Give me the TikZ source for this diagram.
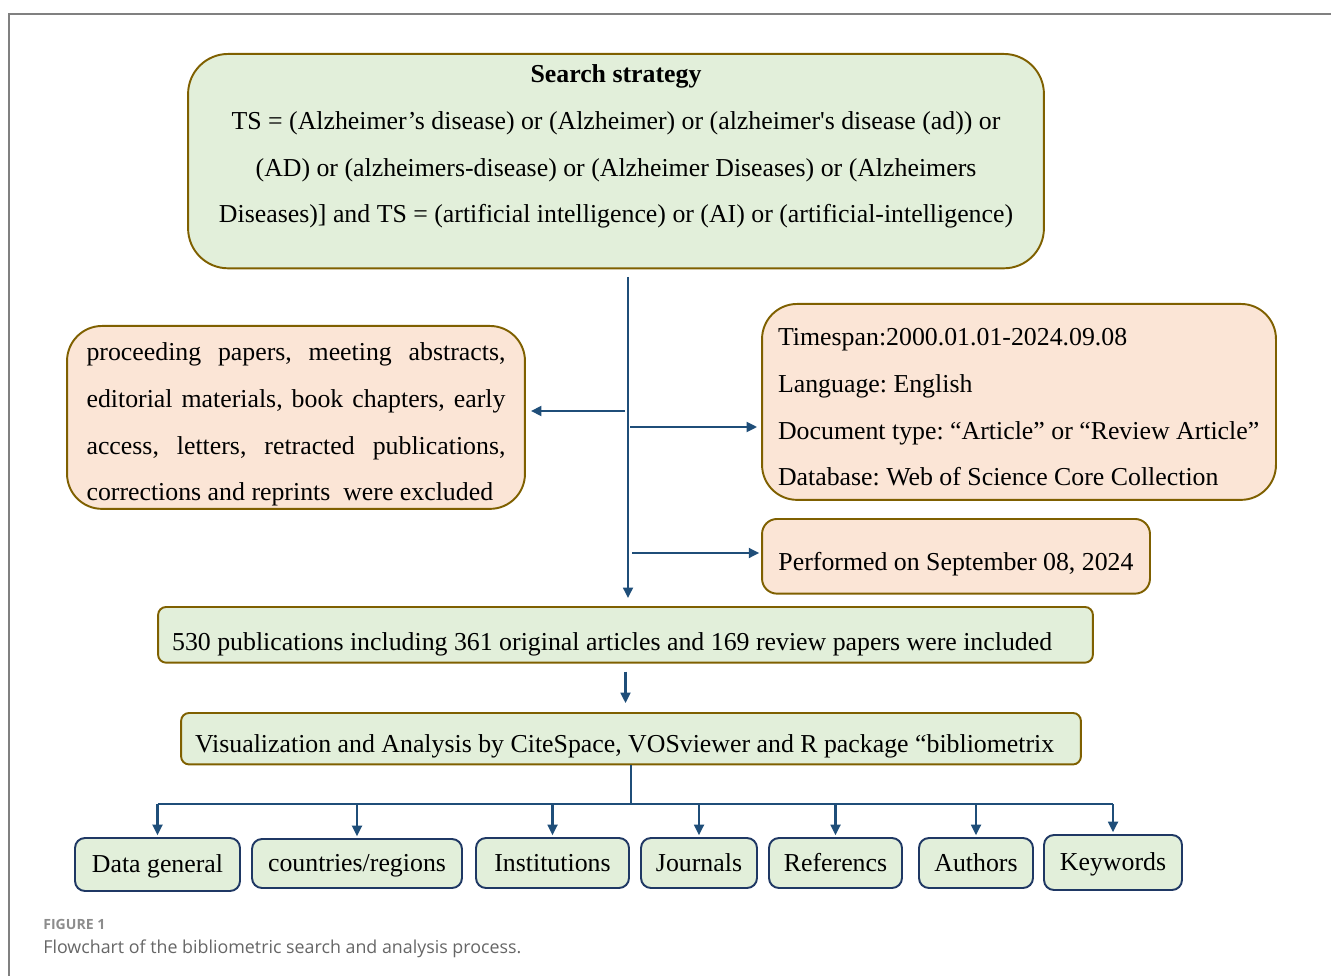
\documentclass[tikz,border=0pt]{standalone}
\usepackage{fontspec}
\setmainfont{Liberation Serif}
\newfontfamily\capfont{Open Sans}
\usetikzlibrary{positioning,arrows.meta}
\frenchspacing

\definecolor{boxedge}{RGB}{127,96,0}
\definecolor{greenfill}{RGB}{226,239,218}
\definecolor{peachfill}{RGB}{251,229,214}
\definecolor{navyedge}{RGB}{31,56,100}
\definecolor{flowblue}{RGB}{31,78,121}
\definecolor{framegray}{RGB}{128,128,128}

% invisible struts that fix the space above the first and below the last line
\newcommand{\topgap}[1]{\rule{0pt}{#1}}
\newcommand{\botgap}[1]{\rule[-#1]{0pt}{#1}}

\begin{document}
\begin{tikzpicture}[
    x=0.02cm, y=-0.02cm,
    basebox/.style={
        draw=boxedge,
        line width=1.1pt,
        font=\fontsize{14.7}{26.6}\selectfont
    },
    greenbox/.style={basebox, fill=greenfill},
    peachbox/.style={basebox, fill=peachfill},
    topicbox/.style={
        basebox,
        draw=navyedge,
        fill=greenfill,
        rounded corners=0.2cm,
        text height=1.15em,
        text depth=0.22em
    },
    line/.style={draw=flowblue, line width=1.6pt},
    arrow/.style={line, -{Triangle[length=6pt,width=5.5pt]}}
]
\useasboundingbox (0,0) rectangle (1331,976);

% frame of the figure
\draw[framegray, line width=0.8pt] (9,976) -- (9,14) -- (1331,14);

\node[greenbox, anchor=north, minimum width=17.12cm, inner ysep=0pt,
      rounded corners=0.8cm, align=center] (search) at (616,53)
    {\topgap{16.4pt}\textbf{Search strategy}\\
     TS = (Alzheimer’s disease) or (Alzheimer) or (alzheimer\textquotesingle s disease (ad)) or\\
     (AD) or (alzheimers-disease) or (Alzheimer Diseases) or (Alzheimers\\
     Diseases)] and TS = (artificial intelligence) or (AI) or (artificial-intelligence)\botgap{25.8pt}};

\node[peachbox, anchor=north, text width=8.38cm, inner xsep=0.39cm, inner ysep=0pt,
      rounded corners=0.7cm, align=justify] (excl) at (296,325)
    {\topgap{19.8pt}proceeding papers, meeting abstracts,\linebreak
     editorial materials, book chapters, early\linebreak
     access, letters, retracted publications,\linebreak
     corrections and reprints\ \ were excluded\botgap{4.5pt}};

\node[peachbox, anchor=north, text width=9.64cm, inner xsep=0.32cm, inner ysep=0pt,
      rounded corners=0.7cm, align=flush left] (crit) at (1019,303)
    {\topgap{23.8pt}Timespan:2000.01.01-2024.09.08\\
     Language: English\\
     Document type: “Article” or “Review Article”\\
     Database: Web of Science Core Collection\botgap{7.9pt}};

\node[peachbox, anchor=north, minimum width=7.76cm, inner ysep=0pt,
      rounded corners=0.3cm] (perf) at (956,518)
    {\topgap{29.5pt}Performed on September 08, 2024\botgap{13pt}};

\node[greenbox, anchor=north, text width=18.14cm, inner xsep=0.28cm, inner ysep=0pt,
      rounded corners=0.16cm, align=flush left] (pubs) at (625.5,606)
    {\topgap{24.9pt}530 publications including 361 original articles and 169 review papers were included\botgap{6.8pt}};

\node[greenbox, anchor=north, text width=17.44cm, inner xsep=0.28cm, inner ysep=0pt,
      rounded corners=0.16cm, align=flush left] (vis) at (631,712)
    {\topgap{22.7pt}Visualization and Analysis by CiteSpace, VOSviewer and R package “bibliometrix\botgap{6.6pt}};

% outputs of the analysis
\node[topicbox, minimum width=3.3cm, minimum height=1.06cm] (dgen) at (157.5,864.5) {Data general};
\node[topicbox, minimum width=4.2cm, minimum height=0.98cm] (ctry) at (357,863.5) {countries/regions};
\node[topicbox, minimum width=3.06cm, minimum height=1.0cm] (inst) at (552.5,863) {Institutions};
\node[topicbox, minimum width=2.32cm, minimum height=1.0cm] (jour) at (699,863) {Journals};
\node[topicbox, minimum width=2.66cm, minimum height=1.0cm] (refs) at (835.5,863) {Referencs};
\node[topicbox, minimum width=2.28cm, minimum height=1.0cm] (auth) at (976,863) {Authors};
\node[topicbox, minimum width=2.76cm, minimum height=1.1cm] (kwd) at (1113,862.5) {Keywords};

% connectors
\coordinate (trunk) at (628,277);
\coordinate (lx) at (625,411);
\coordinate (rx) at (630,427);
\coordinate (pfx) at (632,553);
\coordinate (bus) at (631,804);

\draw[arrow, shorten >=4.5pt] (trunk) -- (trunk |- pubs.north);
\draw[arrow, shorten >=2.8pt] (lx) -- (lx -| excl.east);
\draw[arrow, shorten >=2.2pt] (rx) -- (rx -| crit.west);
\draw[arrow, shorten >=1pt] (pfx) -- (pfx -| perf.west);
\draw[arrow, shorten <=4.5pt, shorten >=5pt] (pubs.south) -- (pubs.south |- vis.north);

\draw[line] (vis.south) -- (bus);
\draw[line] (dgen.north |- bus) -- (kwd.north |- bus);
\foreach \b in {dgen,ctry,inst,jour,refs,auth,kwd}
    \draw[arrow, shorten >=1pt] (\b.north |- bus) -- (\b.north);

% caption
\node[anchor=base west, font=\capfont\bfseries\fontsize{8}{10}\selectfont,
      text=black!45, inner sep=0pt] (fignum) at (43,929) {FIGURE 1};
\node[anchor=base west, font=\capfont\fontsize{10.15}{12}\selectfont,
      text=black!60, inner sep=0pt] (figcap) at (43,953)
    {Flowchart of the bibliometric search and analysis process.};

\end{tikzpicture}
\end{document}
